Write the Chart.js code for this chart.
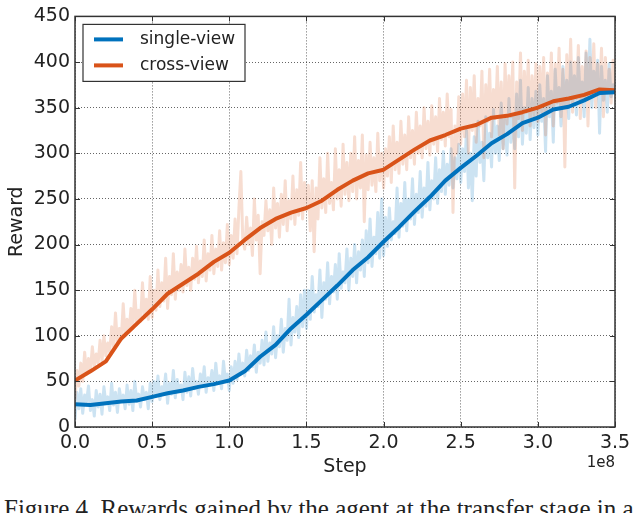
<!DOCTYPE html>
<html>
<head>
<meta charset="utf-8">
<script src="https://cdn.jsdelivr.net/npm/chart.js@4/dist/chart.umd.min.js"></script>
<style>
  html, body { margin: 0; padding: 0; background: #fff; overflow: hidden; }
  #wrap { position: relative; width: 640px; height: 513px; }
  #caption {
    position: absolute; left: 4px; top: 495px;
    font-family: 'Liberation Serif', serif; font-size: 25px; color: #222;
    white-space: nowrap;
  }
</style>
</head>
<body>
<div id="wrap">
  <canvas id="reward-chart" width="640" height="490"></canvas>
  <div id="caption">Figure 4. Rewards gained by the agent at the transfer stage in a</div>
</div>
<script>
// steps are in units of 1e8
const smoothSteps = [0, 0.1, 0.2, 0.3, 0.4, 0.5, 0.6, 0.7, 0.8, 0.9, 1.0, 1.1, 1.2, 1.3, 1.4, 1.5, 1.6, 1.7,
  1.8, 1.9, 2.0, 2.1, 2.2, 2.3, 2.4, 2.5, 2.6, 2.7, 2.8, 2.9, 3.0, 3.1, 3.2, 3.3, 3.4, 3.5]
const singleSmooth = [25, 24, 26, 28, 29, 33, 37, 40, 44, 47, 51, 61, 77, 90, 108, 123, 139, 155,
  172, 186, 203, 219, 236, 252, 270, 284, 297, 311, 321, 333, 339, 348, 351, 358, 366, 367]
const crossSmooth = [51, 61, 72, 97, 113, 129, 146, 157, 168, 181, 191, 205, 218, 228, 235, 240, 248, 260,
  270, 278, 282, 293, 304, 314, 320, 327, 331, 339, 341, 345, 350, 357, 360, 364, 370, 369]

// raw rewards, one reading every 0.0125e8 steps (40 per row = 0.5e8)
const RAW_DX = 0.0125
const singleRaw = [
  8, 38, 20, 42, 15, 35, 28, 45, 18, 30, 12, 40, 22, 36, 14, 44, 26, 33, 18, 48, 24, 38, 16, 42, 28, 35, 20, 46, 25, 40, 18, 50, 28, 36, 22, 44, 30, 38, 20, 48,
  28, 50, 34, 56, 30, 44, 38, 58, 26, 48, 36, 62, 32, 52, 40, 46, 30, 60, 38, 55, 34, 64, 42, 50, 36, 58, 44, 66, 38, 54, 46, 62, 40, 70, 48, 56, 42, 72, 50, 58,
  40, 66, 48, 72, 52, 80, 58, 70, 56, 84, 62, 78, 66, 90, 60, 82, 70, 95, 68, 104, 72, 92, 80, 110, 76, 100, 88, 118, 82, 108, 95, 140, 90, 120, 104, 132, 98, 145, 110, 150,
  108, 150, 118, 165, 126, 145, 132, 172, 120, 158, 140, 180, 135, 165, 148, 178, 140, 190, 152, 170, 158, 195, 150, 185, 165, 200, 158, 192, 172, 205, 165, 215, 180, 228, 176, 208, 190, 235, 185, 250,
  188, 230, 198, 240, 205, 225, 212, 262, 208, 245, 220, 268, 215, 250, 228, 272, 222, 255, 235, 280, 230, 262, 242, 290, 238, 270, 250, 295, 245, 282, 258, 302, 255, 288, 265, 305, 262, 295, 272, 310,
  268, 305, 280, 325, 262, 300, 248, 318, 275, 335, 290, 312, 270, 340, 295, 322, 285, 348, 300, 330, 292, 355, 305, 338, 298, 360, 312, 342, 305, 365, 318, 380, 310, 350, 322, 372, 315, 360, 328, 368,
  320, 375, 335, 360, 302, 385, 340, 368, 312, 392, 348, 372, 330, 395, 352, 380, 338, 400, 355, 385, 342, 405, 358, 378, 340, 410, 362, 425, 350, 390, 365, 402, 322, 395, 358, 380, 345, 398, 362, 375,
  368]
const crossRaw = [
  30, 62, 45, 70, 50, 82, 58, 75, 62, 88, 66, 80, 70, 95, 72, 100, 78, 92, 82, 110, 88, 125, 90, 108, 96, 135, 100, 118, 104, 130, 108, 150, 112, 128, 116, 158, 120, 140, 118, 165,
  120, 150, 128, 172, 132, 158, 138, 185, 130, 165, 145, 190, 140, 170, 150, 178, 148, 195, 155, 175, 150, 185, 162, 198, 158, 182, 165, 205, 160, 190, 172, 210, 168, 195, 176, 215, 172, 202, 180, 222,
  178, 210, 185, 228, 190, 240, 280, 205, 195, 230, 200, 218, 188, 250, 205, 232, 168, 225, 210, 248, 215, 238, 200, 262, 218, 245, 208, 255, 222, 270, 215, 248, 228, 275, 222, 260, 232, 290, 228, 268,
  238, 265, 215, 270, 192, 262, 228, 295, 240, 272, 235, 300, 245, 268, 238, 305, 250, 282, 242, 310, 255, 290, 248, 300, 258, 318, 250, 292, 262, 320, 225, 298, 260, 312, 265, 295, 258, 322, 270, 300,
  262, 305, 275, 318, 268, 330, 282, 312, 278, 335, 288, 320, 282, 340, 295, 325, 288, 345, 300, 330, 295, 350, 305, 335, 298, 352, 310, 340, 302, 360, 315, 345, 308, 365, 318, 348, 235, 330, 300, 362,
  310, 365, 318, 380, 300, 372, 325, 385, 312, 360, 330, 390, 295, 375, 335, 392, 318, 370, 338, 395, 320, 378, 305, 398, 332, 385, 340, 400, 262, 378, 338, 410, 325, 390, 345, 402, 330, 385, 340, 398,
  335, 395, 345, 405, 320, 388, 350, 410, 330, 398, 355, 415, 340, 392, 285, 408, 352, 425, 345, 400, 360, 418, 338, 395, 358, 412, 330, 405, 362, 420, 350, 398, 365, 415, 340, 405, 368, 392, 355, 402,
  368]

const yTicks = [0, 50, 100, 150, 200, 250, 300, 350, 400, 450]
const xTicks = [0, 0.5, 1.0, 1.5, 2.0, 2.5, 3.0, 3.5]

const BLUE = 'rgb(0, 114, 189)'
const ORANGE = 'rgb(217, 83, 25)'
const BLUE_RAW = 'rgba(0, 114, 189, 0.2)'
const ORANGE_RAW = 'rgba(217, 83, 25, 0.2)'
const FONT = "'DejaVu Sans', sans-serif"

const toPoints = (xs, ys) => ys.map((y, i) => ({ x: xs[i], y }))
const rawPoints = (ys) => ys.map((y, i) => ({ x: i * RAW_DX, y }))

/* Utilities */
const framePlugin = {
  id: 'frame',
  afterDraw (chart) {
    const { ctx, chartArea: a, scales } = chart
    ctx.save()
    // inward ticks on all four sides
    ctx.strokeStyle = '#333'
    ctx.lineWidth = 1
    ctx.beginPath()
    xTicks.forEach((v) => {
      const px = Math.round(scales.x.getPixelForValue(v)) + 0.5
      ctx.moveTo(px, a.bottom); ctx.lineTo(px, a.bottom - 5)
      ctx.moveTo(px, a.top); ctx.lineTo(px, a.top + 5)
    })
    yTicks.forEach((v) => {
      const py = Math.round(scales.y.getPixelForValue(v)) + 0.5
      ctx.moveTo(a.left, py); ctx.lineTo(a.left + 5, py)
      ctx.moveTo(a.right, py); ctx.lineTo(a.right - 5, py)
    })
    ctx.stroke()
    ctx.lineWidth = 1.5
    ctx.strokeRect(a.left, a.top, a.right - a.left, a.bottom - a.top)

    // offset text
    ctx.fillStyle = '#222'
    ctx.font = '15px ' + FONT
    ctx.textAlign = 'right'
    ctx.textBaseline = 'middle'
    ctx.fillText('1e8', a.right, 463)

    // legend
    const lx = a.left + 8
    const ly = a.top + 8
    ctx.fillStyle = '#fff'
    ctx.fillRect(lx, ly, 162, 57)
    ctx.strokeStyle = '#333'
    ctx.lineWidth = 1.2
    ctx.strokeRect(lx, ly, 162, 57)
    const items = [['single-view', BLUE], ['cross-view', ORANGE]]
    items.forEach(([label, color], i) => {
      const y = ly + 15 + i * 26
      ctx.strokeStyle = color
      ctx.lineWidth = 4
      ctx.beginPath()
      ctx.moveTo(lx + 11, y); ctx.lineTo(lx + 40, y)
      ctx.stroke()
      ctx.fillStyle = '#222'
      ctx.font = '17px ' + FONT
      ctx.textAlign = 'left'
      ctx.fillText(label, lx + 57, y)
    })
    ctx.restore()
  }
}

const ctx = document.getElementById('reward-chart')
;(() =>
  new Chart(ctx, {
    type: 'line',
    data: {
      datasets: [
        { label: 'single-view', data: toPoints(smoothSteps, singleSmooth), borderColor: BLUE, borderWidth: 4 },
        { label: 'cross-view', data: toPoints(smoothSteps, crossSmooth), borderColor: ORANGE, borderWidth: 4 },
        { label: 'cross-view raw', data: rawPoints(crossRaw), borderColor: ORANGE_RAW, borderWidth: 3 },
        { label: 'single-view raw', data: rawPoints(singleRaw), borderColor: BLUE_RAW, borderWidth: 3 }
      ]
    },
    options: {
      responsive: false,
      animation: false,
      parsing: false,
      elements: { point: { radius: 0 }, line: { tension: 0, fill: false, borderJoinStyle: 'round' } },
      layout: { padding: { left: 0, right: 25, top: 10, bottom: 12 } },
      plugins: { legend: { display: false }, tooltip: { enabled: false } },
      scales: {
        x: {
          type: 'linear',
          min: 0,
          max: 3.5,
          afterFit: (scale) => { scale.height = 51 },
          afterBuildTicks: (scale) => { scale.ticks = xTicks.map((v) => ({ value: v })) },
          ticks: {
            callback: (v) => v.toFixed(1),
            font: { family: FONT, size: 19 },
            color: '#222',
            padding: 5,
            maxRotation: 0
          },
          grid: { color: 'rgba(0,0,0,0.6)', lineWidth: 1, drawTicks: false },
          border: { display: false, dash: [1, 2] },
          title: { display: true, text: 'Step', font: { family: FONT, size: 19 }, color: '#222', padding: 0 }
        },
        y: {
          min: 0,
          max: 450,
          afterFit: (scale) => { scale.width = 75 },
          afterBuildTicks: (scale) => { scale.ticks = yTicks.map((v) => ({ value: v })) },
          ticks: { font: { family: FONT, size: 19 }, color: '#222', padding: 5 },
          grid: { color: 'rgba(0,0,0,0.6)', lineWidth: 1, drawTicks: false },
          border: { display: false, dash: [1, 2] },
          title: { display: true, text: 'Reward', font: { family: FONT, size: 19 }, color: '#222', padding: { top: 6, bottom: 0 } }
        }
      }
    },
    plugins: [framePlugin]
  }))()
</script>
</body>
</html>
